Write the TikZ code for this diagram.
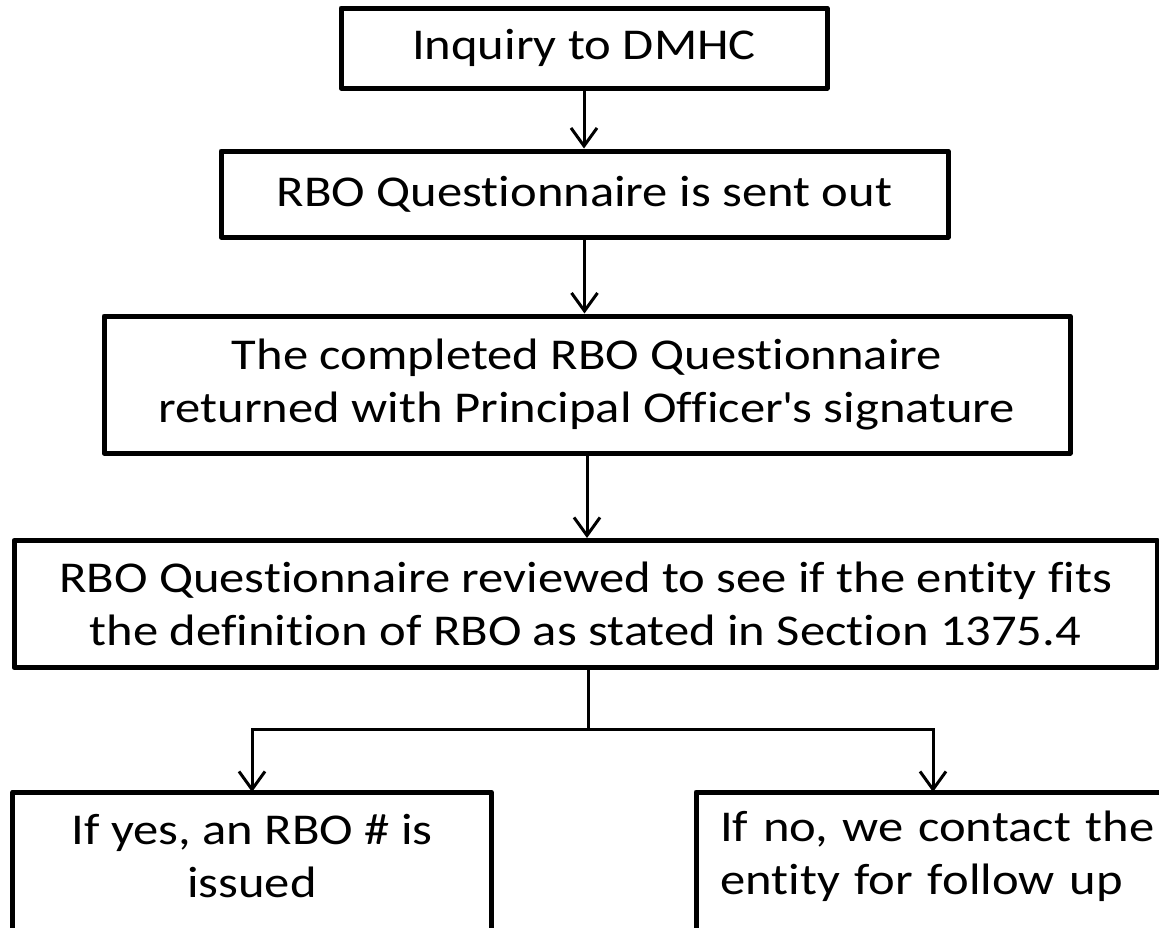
\documentclass[tikz,border=0pt]{standalone}
\usepackage{fontspec}
\setmainfont{Carlito}[FakeStretch=1.15,Ligatures=NoCommon]
\usetikzlibrary{arrows.meta}
\begin{document}
\begin{tikzpicture}[x=1pt,y=-1pt,
  boxline/.style={draw=black,line width=5pt,line join=round},
  flowbox/.style={boxline,inner sep=0pt,align=center,font=\fontsize{44}{53}\selectfont},
  plaintext/.style={inner sep=0pt,font=\fontsize{44}{53}\selectfont},
  arr/.style={draw=black,line width=3pt,-{Straight Barb[length=18pt,width=26pt,line width=3pt]}},
  conn/.style={draw=black,line width=3pt}]
\useasboundingbox (0,0) rectangle (1159,927);
\clip (0,0) rectangle (1159,927);
\fill[white] (0,0) rectangle (1159,927);

\node[flowbox,minimum width=486pt,minimum height=80pt] (b1) at (584,48) {Inquiry to DMHC};
\node[flowbox,minimum width=727pt,minimum height=86pt] (b2) at (584.5,194) {RBO Questionnaire is sent out};
\node[flowbox,minimum width=966pt,minimum height=137pt] (b3) at (587,384.5) {The completed RBO Questionnaire\\returned with Principal Officer\textquotesingle s signature};
\node[flowbox,minimum width=1143pt,minimum height=127pt] (b4) at (585.5,604) {RBO Questionnaire reviewed to see if the entity fits\\the definition of RBO as stated in Section 1375.4};

\node[plaintext,align=center,minimum width=478pt,minimum height=128pt,anchor=north] (b5) at (252,792) {If yes, an RBO \# is\\issued};
\draw[boxline] ([yshift=-80pt]b5.south west) -- (b5.north west) -- (b5.north east) -- ([yshift=-80pt]b5.south east);

\node[plaintext,inner xsep=24pt,inner ysep=0pt,align=left,text width=450pt,minimum height=128pt,anchor=north west] (b6) at (696,792) {If no, we contact the\\entity for follow up};
\draw[boxline] ([yshift=-80pt]b6.south west) -- (b6.north west) -- (b6.north east) -- ([yshift=-80pt]b6.south east);

\draw[arr] (b1.south) -- (b1.south |- b2.north);
\draw[arr] (b2.south) -- (b2.south |- b3.north);
\draw[arr] (b3.south) -- (b3.south |- b4.north);

\coordinate (split) at (588,729);
\coordinate (dropR) at (933,792);
\draw[conn] (b4.south -| split) -- (split);
\draw[arr] (split) -| (b5.north);
\draw[arr] (split) -| (dropR);
\end{tikzpicture}
\end{document}
